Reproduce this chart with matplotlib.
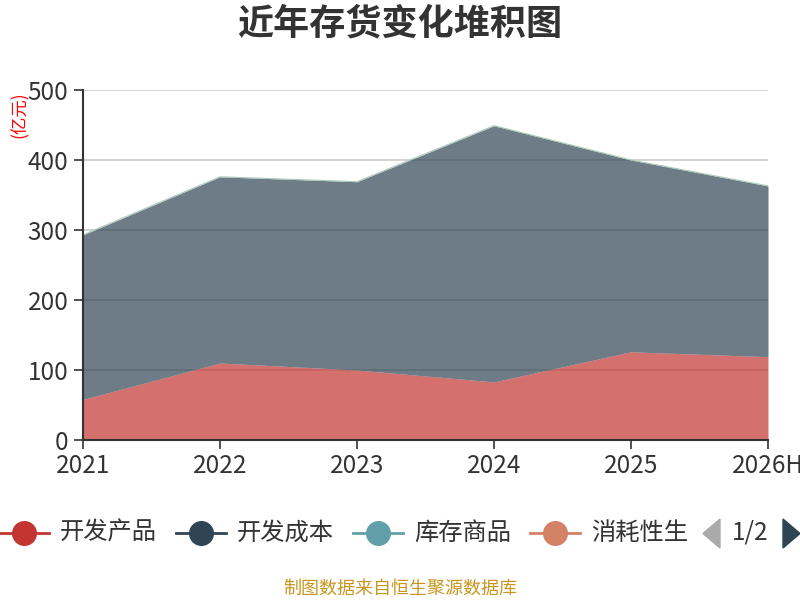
import matplotlib
matplotlib.use('Agg')
import matplotlib.pyplot as plt
from matplotlib.lines import Line2D
from matplotlib.patches import Polygon
import numpy as np

plt.rcParams['font.family'] = ['Noto Sans CJK SC', 'DejaVu Sans']

years = ['2021', '2022', '2023', '2024', '2025', '2026H']
kaifa_chanpin = [58, 110, 100, 83, 126, 119]      # 开发产品
kaifa_chengben = [235, 266, 269, 366, 274, 244]   # 开发成本
kucun_shangpin = [0, 0, 0, 0, 0, 0]               # 库存商品
xiaohao = [0, 0, 0, 0, 0, 0]                      # 消耗性生

series_names = ['开发产品', '开发成本', '库存商品', '消耗性生']
series_colors = ['#c23531', '#2f4554', '#61a0a8', '#d48265']
yticks = [0, 100, 200, 300, 400, 500]

fig = plt.figure(figsize=(8, 6), dpi=100)
ax = fig.add_axes([83 / 800, 160 / 600, 685 / 800, 350 / 600])

x = np.arange(len(years))
stacks = np.cumsum([kaifa_chanpin, kaifa_chengben, kucun_shangpin, xiaohao], axis=0)
lower = np.zeros(len(years))
for i, top in enumerate(stacks):
    if np.any(top > lower):
        ax.fill_between(x, lower, top, color=series_colors[i], alpha=0.7,
                        linewidth=0, zorder=2)
    lower = top
# thin edge line of the stacked series on top
ax.plot(x, stacks[-1], color='#a9c8b8', linewidth=0.8, zorder=3)

ax.set_xlim(0, len(years) - 1)
ax.set_ylim(0, 500)
ax.set_xticks(x)
ax.set_xticklabels(years)
ax.set_yticks(yticks)
ax.tick_params(axis='both', colors='#333333', labelsize=17.5, length=6.5, width=1.2,
               labelcolor='#333333')
ax.tick_params(axis='x', pad=3)
ax.tick_params(axis='y', pad=4)
ax.grid(axis='y', color='#cccccc', linewidth=1.2, zorder=0)
ax.set_axisbelow(True)
for s in ['top', 'right']:
    ax.spines[s].set_visible(False)
for s in ['left', 'bottom']:
    ax.spines[s].set_color('#333333')
    ax.spines[s].set_linewidth(1.5)
    ax.spines[s].set_zorder(4)

# overlay in pixel coordinates for title, unit, legend, footer
ov = fig.add_axes([0, 0, 1, 1], facecolor='none')
ov.set_xlim(0, 800)
ov.set_ylim(600, 0)
ov.axis('off')

ov.text(400, 24, '近年存货变化堆积图', ha='center', va='center', fontsize=26,
        fontweight='bold', color='#333333')
ov.text(20, 115, '(亿元)', ha='center', va='center', rotation=90, fontsize=12.5,
        color='#ff0000')

legend_x = [0, 177, 354, 531]
for lx, name, col in zip(legend_x, series_names, series_colors):
    ov.add_line(Line2D([lx - 1, lx + 49], [533, 533], color=col, linewidth=2))
    ov.plot(lx + 24, 533, 'o', markersize=17, color=col)
    ov.text(lx + 60, 533, name, ha='left', va='center', fontsize=17.5, color='#333333')

ov.add_patch(Polygon([[720, 519], [720, 548], [703, 533.5]], closed=True,
                     color='#aaaaaa'))
ov.text(750, 533, '1/2', ha='center', va='center', fontsize=17.5, color='#333333')
ov.add_patch(Polygon([[783, 519], [783, 548], [800, 533.5]], closed=True,
                     color='#2f4554'))

ov.text(400, 589, '制图数据来自恒生聚源数据库', ha='center', va='center',
        fontsize=13, color='#c8961e')

fig.savefig('out.png', dpi=100)
